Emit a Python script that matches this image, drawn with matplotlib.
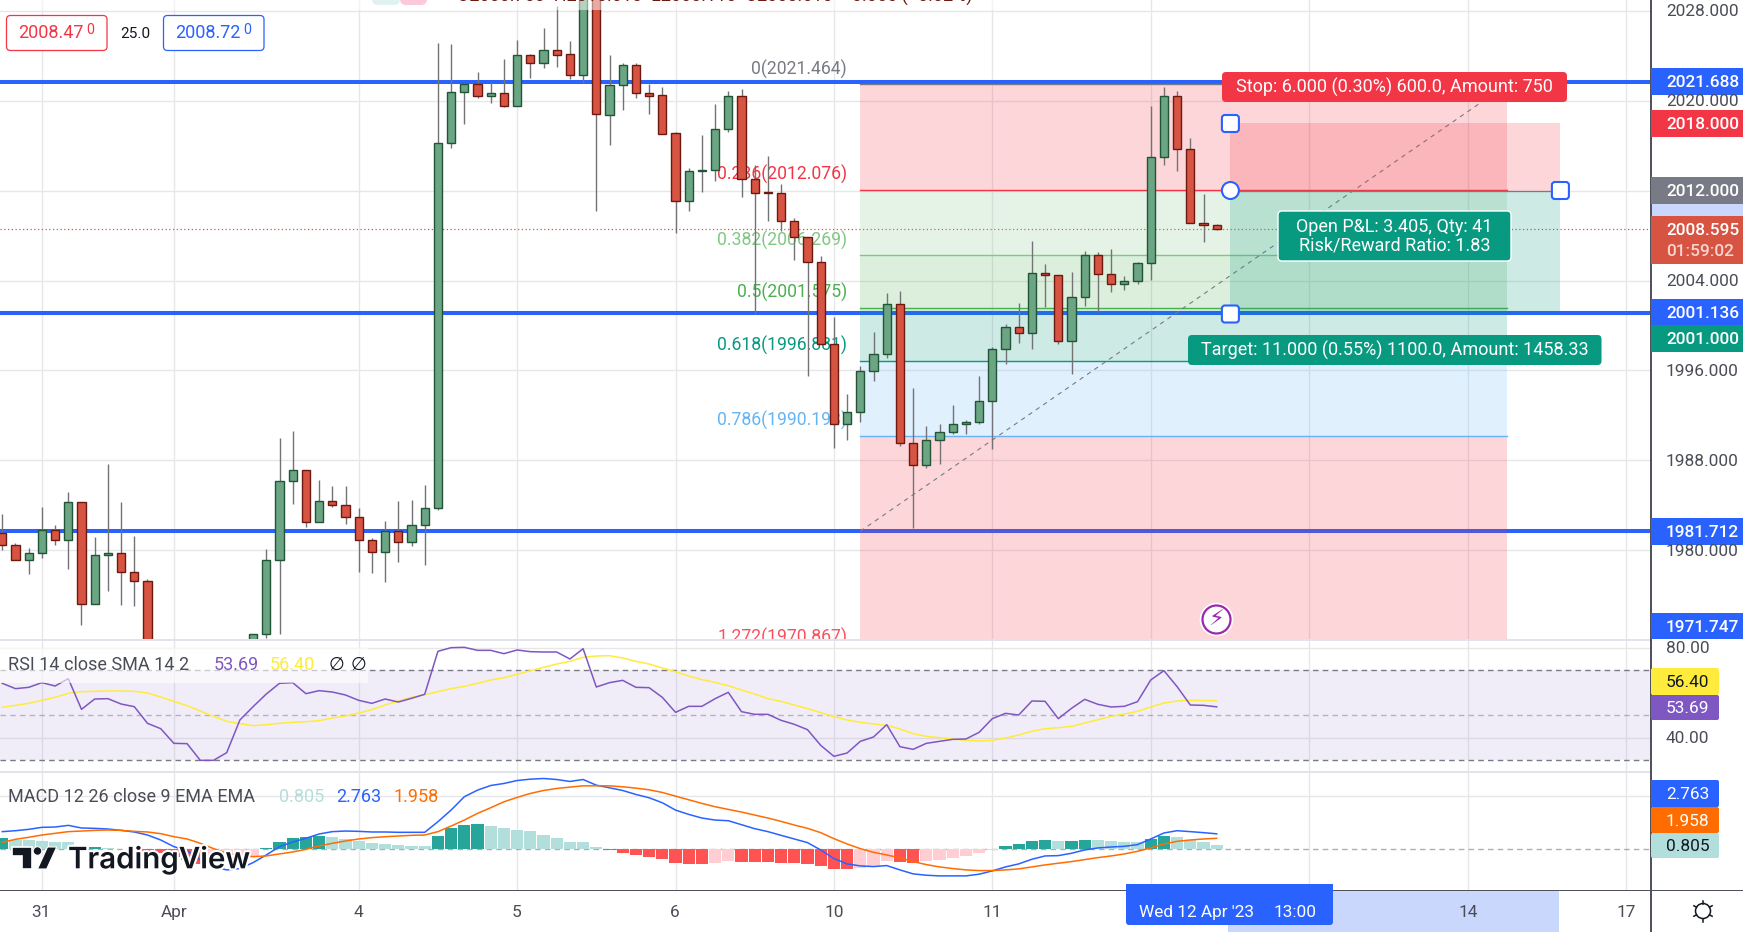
import numpy as np
import matplotlib
matplotlib.use('Agg')
import matplotlib.pyplot as plt
from matplotlib.patches import Rectangle, FancyBboxPatch, Circle, Polygon
import matplotlib.patheffects as pe

plt.rcParams['font.family'] = ['Roboto', 'DejaVu Sans']

W, H = 1743, 932
AXIS_X = 1651

# candles, price values (bars 12-18 sit below the pane)
bar_idx = list(range(0, 12)) + list(range(19, 93))
opens = [1981.55, 1980.48, 1979.12, 1979.77, 1981.82, 1980.93, 1984.31, 1975.23, 1979.59, 1979.77, 1978.08, 1977.28,
         1970.00, 1972.57, 1979.15, 1986.17, 1987.15, 1982.53, 1984.39, 1984.04, 1982.97, 1980.93, 1979.86, 1981.73,
         1980.75, 1982.26, 1983.77, 2016.23, 2020.77, 2021.48, 2020.47, 2020.68, 2019.58, 2024.06, 2023.41, 2024.50,
         2024.15, 2022.34, 2030.50, 2018.78, 2021.39, 2023.17, 2020.68, 2020.50, 2017.12, 2011.04, 2013.71, 2013.80,
         2017.45, 2020.41, 2013.03, 2011.87, 2011.78, 2009.29, 2007.87, 2005.65, 1998.36, 1991.21, 1992.31, 1995.93,
         1997.47, 2001.91, 1989.55, 1987.57, 1989.79, 1990.50, 1991.21, 1991.39, 1993.26, 1997.91, 1999.87, 1999.30,
         2004.67, 2004.49, 1998.59, 2002.51, 2006.27, 2004.58, 2003.66, 2003.93, 2005.53, 2014.96, 2020.41, 2015.70,
         2009.12, 2008.94]
highs = [1983.18, 1980.66, 1980.21, 1983.80, 1982.20, 1985.22, 1984.31, 1981.13, 1987.71, 1984.25, 1981.22, 1977.40,
         1972.57, 1980.07, 1989.94, 1990.65, 1987.15, 1986.20, 1985.67, 1985.67, 1983.71, 1981.04, 1982.56, 1984.34,
         1984.42, 1985.76, 2025.16, 2025.07, 2021.63, 2022.58, 2021.72, 2023.73, 2025.42, 2024.18, 2026.46, 2028.45,
         2025.30, 2031.00, 2031.00, 2024.09, 2023.37, 2023.35, 2021.51, 2021.21, 2017.24, 2014.04, 2016.97, 2019.73,
         2020.89, 2021.06, 2014.27, 2015.07, 2012.61, 2009.56, 2007.87, 2006.15, 2000.79, 1993.91, 1996.43, 1999.45,
         2002.92, 2003.10, 1994.47, 1991.09, 1991.27, 1992.96, 1991.63, 1995.54, 1998.09, 2000.17, 2002.03, 2007.54,
         2005.50, 2004.49, 2004.79, 2006.63, 2006.54, 2006.83, 2004.43, 2005.68, 2019.55, 2021.24, 2020.89, 2016.67,
         2011.73, 2009.00]
lows = [1980.01, 1979.15, 1977.84, 1979.30, 1980.42, 1978.29, 1973.34, 1975.23, 1976.36, 1975.12, 1975.03, 1968.00,
        1969.50, 1972.15, 1972.54, 1984.07, 1982.05, 1982.53, 1983.80, 1982.29, 1978.05, 1977.93, 1977.13, 1978.94,
        1980.36, 1978.64, 1983.56, 2015.76, 2017.95, 2020.21, 2019.85, 2019.49, 2019.58, 2022.07, 2022.96, 2023.05,
        2021.92, 2021.63, 2010.16, 2016.11, 2019.20, 2020.29, 2018.84, 2017.09, 2008.20, 2010.21, 2011.90, 2012.82,
        2017.27, 2011.40, 2000.99, 2009.27, 2008.38, 2005.86, 1995.48, 1998.36, 1989.07, 1989.79, 1991.45, 1995.10,
        1997.08, 1989.25, 1981.93, 1987.30, 1987.71, 1990.38, 1990.38, 1991.21, 1988.96, 1996.61, 1998.47, 1997.94,
        2001.68, 1998.39, 1995.72, 2001.77, 2001.17, 2003.01, 2003.13, 2003.66, 2004.08, 2014.30, 2013.71, 2009.09,
        2007.46, 2008.47]
closes = [1980.45, 1979.15, 1979.77, 1981.82, 1980.93, 1984.31, 1975.23, 1979.59, 1979.77, 1978.05, 1977.25, 1969.50,
          1972.57, 1979.15, 1986.17, 1987.15, 1982.53, 1984.39, 1984.01, 1982.97, 1980.93, 1979.86, 1981.73, 1980.75,
          1982.26, 1983.77, 2016.23, 2020.77, 2021.48, 2020.47, 2020.68, 2019.58, 2024.06, 2023.41, 2024.50, 2024.12,
          2022.34, 2030.50, 2018.81, 2021.39, 2023.17, 2020.68, 2020.47, 2017.09, 2011.04, 2013.74, 2013.83, 2017.48,
          2020.41, 2013.03, 2011.84, 2011.76, 2009.27, 2007.84, 2005.65, 1998.36, 1991.21, 1992.31, 1995.96, 1997.47,
          2001.91, 1989.52, 1987.57, 1989.82, 1990.53, 1991.24, 1991.42, 1993.29, 1997.91, 1999.87, 1999.30, 2004.67,
          2004.46, 1998.59, 2002.53, 2006.27, 2004.55, 2003.66, 2003.96, 2005.56, 2014.99, 2020.41, 2015.67, 2009.09,
          2008.91, 2008.595]

rsi = [64.15, 61.78, 62.37, 64.45, 62.96, 66.23, 52.58, 57.18, 57.33, 54.95, 53.77, 46.35, 43.98, 37.45, 37.31, 29.89,
       29.89, 33.30, 47.84, 53.77, 59.40, 64.15, 64.45, 59.55, 60.89, 60.29, 58.96, 56.59, 55.25, 57.18, 55.84, 57.48,
       59.26, 78.39, 80.02, 80.17, 78.83, 78.83, 77.35, 78.98, 78.24, 78.09, 78.09, 74.98, 79.57, 62.52, 64.45, 65.48,
       62.37, 62.22, 57.92, 51.25, 53.92, 53.92, 57.33, 60.15, 51.54, 50.36, 50.36, 47.69, 45.91, 43.53, 36.56, 31.67,
       33.15, 38.34, 40.27, 45.76, 35.97, 34.78, 37.45, 38.34, 39.23, 39.38, 42.35, 48.43, 50.80, 50.06, 56.29, 56.14,
       48.43, 53.03, 57.03, 54.81, 53.62, 53.92, 55.99, 65.63, 69.79, 62.67, 54.51, 54.36, 53.69]
rsi_sma = [53.47, 54.36, 55.25, 56.59, 57.92, 59.70, 60.44, 60.59, 60.74, 60.74, 60.59, 59.85, 58.07, 56.14, 54.21,
           51.84, 49.47, 47.24, 46.20, 45.31, 45.76, 46.35, 46.80, 47.09, 47.54, 48.73, 49.62, 50.95, 52.43, 54.51,
           56.29, 57.92, 59.11, 60.44, 61.78, 62.81, 64.15, 65.63, 66.67, 68.15, 69.79, 71.27, 72.75, 73.94, 75.72,
           76.31, 76.46, 75.42, 73.94, 72.75, 70.97, 69.34, 67.41, 65.78, 64.59, 63.11, 61.18, 59.40, 57.33, 56.14,
           54.51, 52.88, 51.10, 49.32, 47.84, 46.80, 46.06, 45.46, 43.83, 41.76, 40.57, 39.98, 39.38, 38.79, 38.49,
           38.79, 39.83, 41.16, 42.79, 43.98, 44.42, 45.02, 46.50, 47.98, 49.47, 50.51, 51.69, 53.62, 55.40, 56.29,
           56.60, 56.50, 56.40]

macd = [3.15, 3.32, 3.56, 3.92, 3.98, 4.27, 3.80, 3.74, 3.62, 3.38, 3.09, 2.55, 1.66, 0.47, -0.24, -1.90, -3.09, -3.68,
        -3.44, -2.38, -1.01, 0.47, 1.30, 1.96, 2.73, 3.15, 3.26, 3.20, 3.09, 3.09, 3.03, 3.03, 3.03, 4.92, 7.00, 9.38,
        10.56, 11.39, 11.75, 12.28, 12.52, 12.64, 12.46, 12.11, 12.46, 11.45, 10.98, 10.50, 9.79, 9.20, 8.31, 7.00,
        6.23, 5.58, 5.22, 5.10, 4.39, 3.68, 3.15, 2.49, 1.84, 1.19, -0.12, -1.66, -2.61, -2.97, -3.09, -2.91, -3.68,
        -4.39, -4.63, -4.75, -4.75, -4.75, -4.45, -3.86, -3.15, -2.61, -1.78, -1.19, -1.13, -0.71, -0.12, 0.24, 0.41,
        0.53, 0.83, 1.84, 2.91, 3.32, 3.15, 2.97, 2.76]
signal = [1.24, 1.78, 2.14, 2.55, 2.85, 3.15, 3.26, 3.38, 3.44, 3.38, 3.20, 3.09, 2.79, 2.25, 1.84, 1.07, 0.12, -0.71,
          -1.19, -1.31, -1.19, -0.83, -0.48, 0.00, 0.59, 1.07, 1.48, 1.84, 2.08, 2.25, 2.37, 2.49, 2.55, 3.15, 4.15,
          5.22, 6.41, 7.42, 8.48, 9.26, 9.97, 10.50, 10.86, 11.10, 11.33, 11.33, 11.33, 11.16, 10.92, 10.62, 10.15,
          9.49, 8.84, 8.19, 7.60, 7.12, 6.65, 6.11, 5.58, 4.98, 4.33, 3.74, 2.97, 1.90, 0.95, 0.12, -0.54, -1.01,
          -1.54, -2.20, -2.73, -3.15, -3.44, -3.68, -3.80, -3.80, -3.68, -3.50, -3.15, -2.79, -2.49, -2.20, -1.84,
          -1.49, -1.19, -0.83, -0.36, 0.24, 0.95, 1.42, 1.66, 1.84, 1.96]
hist = [2.02, 1.66, 1.64, 1.42, 1.30, 1.24, 0.05, 0.36, 0.30, 0.05, -0.12, -0.24, -0.71, -1.31, -1.90, -2.61, -1.90,
        -1.42, -1.31, -1.19, 0.24, 1.30, 2.02, 2.25, 2.30, 2.25, 1.78, 1.54, 1.13, 0.95, 0.77, 0.59, 0.58, 2.37, 3.80,
        4.33, 4.51, 4.15, 3.80, 3.44, 3.20, 2.55, 2.02, 1.36, 1.30, 0.41, -0.18, -0.60, -1.01, -1.37, -1.72, -2.43,
        -2.61, -2.62, -2.43, -2.08, -2.26, -2.28, -2.30, -2.43, -2.49, -2.61, -2.97, -3.50, -3.52, -3.27, -2.91,
        -2.08, -2.26, -2.43, -2.08, -1.90, -1.54, -1.19, -0.65, -0.06, 0.59, 0.95, 1.48, 1.66, 1.48, 1.55, 1.66, 1.60,
        1.48, 1.30, 1.25, 1.84, 2.37, 2.19, 1.66, 1.30, 0.80]

# levels
h_levels = [2021.688, 2001.136, 1981.712]
last_price = 2008.595
fib_ratio = ['0', '0.236', '0.382', '0.5', '0.618', '0.786', '1.272']
fib_price = [2021.464, 2012.076, 2006.269, 2001.575, 1996.881, 1990.193, 1970.867]
fib_line = ['#787b86', '#f23645', '#81c784', '#4caf50', '#089981', '#64b5f6', '#f7525f']
fib_fill = ['#f23645', '#81c784', '#4caf50', '#089981', '#64b5f6']
fib_low = 1981.686
fib_start, fib_end = 65, 114
pos_start, pos_end = 93, 118
pos_stop, pos_entry, pos_target = 2018.0, 2012.0, 2001.0

grid_idx = [3, 13, 27, 39, 51, 63, 75, 87, 99, 111, 123]
date_labels = ['31', 'Apr', '4', '5', '6', '10', '11', '14', '17']
date_x = [41, 174, 358, 517, 675, 834, 992, 1468, 1626]
price_ticks = [1972, 1980, 1988, 1996, 2004, 2012, 2020, 2028]

PXF = 0.72  # px -> pt at dpi 100
FS = 18.0 * PXF
TAG = 17.2 * PXF
TXT = '#4a4d57'
GRID = '#e7e7ea'

fig = plt.figure(figsize=(W / 100, H / 100), dpi=100, facecolor='white')


def pane(top, bottom):
    ax = fig.add_axes([0, 1 - bottom / H, AXIS_X / W, (bottom - top) / H])
    ax.set_xlim(-0.174, 124.9)
    for s in ax.spines.values():
        s.set_visible(False)
    ax.set_xticks(grid_idx)
    ax.tick_params(length=0, labelbottom=False, labelleft=False)
    ax.grid(color=GRID, lw=1.0, zorder=0)
    ax.set_axisbelow(True)
    return ax


# main pane
ax = pane(0, 640)
ax.set_ylim(1972.07, 2028.978)
ax.set_yticks(price_ticks)

for lv in h_levels:
    ax.axhline(lv, color='#2962ff', lw=2.9, zorder=2)
ax.axhline(last_price, color='#d75442', lw=0.9, ls=(0, (1, 2)), zorder=2)

# fib retracement
for i, c in enumerate(fib_fill):
    ax.fill_between([fib_start, fib_end], fib_price[i], fib_price[i + 1], color=c, alpha=0.2, lw=0, zorder=3)
ax.fill_between([fib_start, fib_end], fib_price[5], fib_price[6], color='#f23645', alpha=0.2, lw=0, zorder=3)
for r, p, c in zip(fib_ratio, fib_price, fib_line):
    ax.plot([fib_start, fib_end], [p, p], color=c, lw=1.0, zorder=3)
    ax.annotate('%s(%.3f)' % (r, p), (64, p), xytext=(0, 10.8), textcoords='offset points', ha='right', va='center',
                color=c, fontsize=FS * 0.98, zorder=3, clip_on=True, annotation_clip=False)
ax.plot([fib_start, fib_end], [fib_low, fib_price[0]], color='#787b86', lw=0.8, ls=(0, (4, 4)), zorder=4)

# long/short position
ax.fill_between([pos_start, pos_end], pos_entry, pos_stop, color='#f23645', alpha=0.2, lw=0, zorder=4)
ax.fill_between([pos_start, pos_end], pos_target, pos_entry, color='#089981', alpha=0.2, lw=0, zorder=4)
ax.plot([pos_start, pos_end], [pos_entry, pos_entry], color='#787b86', lw=0.9, zorder=4)

# candles
up_col = ['#6ba583' if c >= o else '#d75442' for o, c in zip(opens, closes)]
edge_col = ['#225437' if c >= o else '#6b1a12' for o, c in zip(opens, closes)]
ax.vlines(bar_idx, lows, highs, color='#737375', lw=1.0, zorder=5)
body_low = np.minimum(opens, closes)
body_h = np.abs(np.array(closes) - np.array(opens))
ax.bar(bar_idx, body_h, bottom=body_low, width=0.63, color=up_col, edgecolor=edge_col, lw=1.0, zorder=6)

# RSI pane
ax_rsi = pane(640, 772)
ax_rsi.set_ylim(24.7, 83.43)
ax_rsi.set_yticks([40, 80])
ax_rsi.axhspan(30, 70, color='#7e57c2', alpha=0.1, lw=0, zorder=1)
ax_rsi.axhline(70, color='#787b86', lw=1.0, ls=(0, (4, 3)), zorder=2)
ax_rsi.axhline(50, color='#787b86', lw=1.0, ls=(0, (4, 3)), alpha=0.5, zorder=2)
ax_rsi.axhline(30, color='#787b86', lw=1.0, ls=(0, (4, 3)), zorder=2)
ax_rsi.plot(range(93), rsi, color='#7e57c2', lw=1.1, zorder=4)
ax_rsi.plot(range(93), rsi_sma, color='#ffeb3b', lw=1.1, zorder=3)

# MACD pane
ax_macd = pane(772, 890)
ax_macd.set_ylim(-7.27, 13.8)
ax_macd.set_yticks([9.45])
ax_macd.axhline(0, color='#787b86', lw=1.0, ls=(0, (4, 3)), alpha=0.6, zorder=1)
hist_col = []
for i, v in enumerate(hist):
    rising = i == 0 or v >= hist[i - 1]
    if v >= 0:
        hist_col.append('#26a69a' if rising else '#b2dfdb')
    else:
        hist_col.append('#ffcdd2' if rising else '#ff5252')
ax_macd.bar(range(93), hist, width=0.92, color=hist_col, lw=0, zorder=2)
ax_macd.plot(range(93), macd, color='#2962ff', lw=1.1, zorder=3)
ax_macd.plot(range(93), signal, color='#ff6d00', lw=1.1, zorder=4)

# overlay in image pixels: price scale, tags, boxes, legends
ui = fig.add_axes([0, 0, 1, 1], facecolor='none')
ui.set_xlim(0, W)
ui.set_ylim(H, 0)
ui.axis('off')


def rect(x0, y0, x1, y1, color, alpha=1.0, z=2):
    ui.add_patch(Rectangle((x0, y0), x1 - x0, y1 - y0, facecolor=color, edgecolor='none', alpha=alpha, zorder=z))


def rbox(x0, y0, x1, y1, face, edge='none', lw=0.0, rad=4, z=3):
    ui.add_patch(FancyBboxPatch((x0 + rad, y0 + rad), x1 - x0 - 2 * rad, y1 - y0 - 2 * rad,
                                boxstyle='round,pad=%d,rounding_size=%d' % (rad, rad),
                                facecolor=face, edgecolor=edge, lw=lw, zorder=z))


def label(x, y, s, color=TXT, size=FS, ha='left', z=5, **kw):
    ui.text(x, y, s, color=color, fontsize=size, ha=ha, va='center', zorder=z, **kw)


# separators
rect(0, 638.5, AXIS_X, 640.5, '#e0e3eb')
rect(0, 771, AXIS_X, 773, '#e0e3eb')
rect(0, 889.5, W, 890.7, '#50535e')
rect(AXIS_X - 0.6, 0, AXIS_X + 0.6, H, '#50535e')

# top stubs of cut-off legend row
rect(0, 0, 1010, 9.5, 'white', alpha=0.5, z=2)
rbox(372, -14, 400, 5, '#dff2ef', rad=6)
rbox(400, -14, 427, 5, '#fcc8dc', rad=6)
ui.text(457, 1.5, 'O2008.750  H2010.010  L2008.110  C2008.510  \u22120.055 (\u22120.02%)', color='#6b1a12',
        fontsize=FS, ha='left', va='baseline', zorder=5)

# plain price scale labels
for s, y in [('2028.000', 12), ('2020.000', 101.5), ('2004.000', 281.5), ('1996.000', 371.5), ('1988.000', 461.5),
             ('1980.000', 551.5)]:
    label(1666, y, s, size=TAG)
label(1666, 648.5, '80.00', size=TAG)
label(1666, 738.5, '40.00', size=TAG)

# price tags: y0, y1, fill, text, text colour
tags = [(68, 95, '#2962ff', '2021.688', 'white'), (110, 137, '#f23645', '2018.000', 'white'),
        (177, 204, '#787b86', '2012.000', 'white'), (299, 325, '#2962ff', '2001.136', 'white'),
        (325, 352, '#089981', '2001.000', 'white'), (518, 545, '#2962ff', '1981.712', 'white'),
        (613, 639, '#2962ff', '1971.747', 'white')]
rect(AXIS_X + 0.6, 204, W, 216, '#c8d7fb')
for y0, y1, c, s, tc in tags:
    rect(AXIS_X, y0, W, y1, c, z=3)
    label(1666, (y0 + y1) / 2 + 1, s, color=tc, size=TAG, fontweight='medium')
rect(AXIS_X, 216, W, 264, '#d75442', z=3)
label(1666, 230.5, '2008.595', color='white', size=TAG, fontweight='medium')
label(1666, 252, '01:59:02', color='#f7d5d0', size=TAG, fontweight='medium')

for y0, y1, c, s, tc in [(668, 695, '#ffeb3b', '56.40', '#131722'), (695, 720, '#7e57c2', '53.69', 'white'),
                         (780, 807, '#2962ff', '2.763', 'white'), (807, 833, '#ff6d00', '1.958', 'white'),
                         (833, 858, '#b2dfdb', '0.805', '#131722')]:
    rbox(AXIS_X, y0, 1719, y1, c, rad=2)
    label(1666, (y0 + y1) / 2 + 1, s, color=tc, size=TAG)

# bid / ask boxes
rbox(6.5, 15.5, 107, 50.5, 'white', '#f23645', 0.9)
label(18, 33.5, '2008.47', color='#f23645')
label(86.5, 30, '0', color='#f23645', size=FS * 0.8)
label(135.5, 33.5, '25.0', color='#131722', size=FS * 0.85, ha='center')
rbox(163.5, 15.5, 264, 50.5, 'white', '#2962ff', 0.9)
label(175, 33.5, '2008.72', color='#2962ff')
label(243.5, 30, '0', color='#2962ff', size=FS * 0.8)

# position labels
rbox(1222, 72, 1567, 102, '#f23645')
label(1394.5, 87, 'Stop: 6.000 (0.30%) 600.0, Amount: 750', color='white', ha='center')
rbox(1278, 211, 1511, 261, '#089981', 'white', 1.0)
label(1394.5, 227, 'Open P&L: 3.405, Qty: 41', color='white', ha='center')
label(1394.5, 245.5, 'Risk/Reward Ratio: 1.83', color='white', ha='center')
rbox(1188, 335, 1601.5, 365, '#089981')
label(1394.5, 350, 'Target: 11.000 (0.55%) 1100.0, Amount: 1458.33', color='white', ha='center')

# drawing handles
for x, y in [(1230.4, 123.5), (1230.4, 314), (1560.4, 190.5)]:
    rbox(x - 8.5, y - 8.5, x + 8.5, y + 8.5, 'white', '#2962ff', 1.5, rad=3)
ui.add_patch(Circle((1230.4, 190.5), 8.5, facecolor='white', edgecolor='#2962ff', lw=1.5, zorder=4))

# lightning marker
ui.add_patch(Circle((1216.5, 619.5), 14, facecolor='white', edgecolor='#9c27b0', lw=1.6, zorder=4,
                    path_effects=[pe.withStroke(linewidth=4, foreground='white')]))
ui.text(1216.5, 619.5, '\u26a1', color='#9c27b0', fontsize=FS * 1.25, ha='center', va='center', zorder=5,
        family=['DejaVu Sans'])

# indicator legends
rect(0, 648, 368, 683, 'white', alpha=0.6, z=2)
label(8, 665, 'RSI 14 close SMA 14 2')
label(213.5, 665, '53.69', color='#7e57c2')
label(270, 665, '56.40', color='#ffeb3b')
label(329, 665, '\u2205', color='#131722', family=['DejaVu Sans'], size=FS)
label(351, 665, '\u2205', color='#131722', family=['DejaVu Sans'], size=FS)
label(8, 797, 'MACD 12 26 close 9 EMA EMA')
label(279, 797, '0.805', color='#b2dfdb')
label(336.5, 797, '2.763', color='#2962ff')
label(394, 797, '1.958', color='#ff6d00')

# TradingView watermark
halo = [pe.withStroke(linewidth=3, foreground='white')]
LOGO = '#131722'
ui.add_patch(Polygon([(12, 847), (32, 847), (32, 869), (22, 869), (22, 856), (12, 856)], closed=True, facecolor=LOGO,
                     edgecolor='white', lw=1.2, zorder=6))
ui.add_patch(Circle((37.5, 851), 4.3, facecolor=LOGO, edgecolor='white', lw=0.8, zorder=6))
ui.add_patch(Polygon([(37.5, 869), (47.5, 847), (56.7, 847), (46.7, 869)], closed=True, facecolor=LOGO, zorder=6,
                     edgecolor='white', lw=0.8))
ui.text(68, 868.3, 'TradingView', color=LOGO, fontsize=29.5 * PXF, fontweight='semibold', family=['Inter', 'Roboto'],
        ha='left', va='baseline', zorder=6, path_effects=halo)

# time axis
rect(1228, 890.7, 1559, H, '#c8d7fb', z=2)
for s, x in zip(date_labels, date_x):
    label(x, 912.5, s, ha='center', size=TAG)
rbox(1126, 884, 1333, 925, '#2962ff', rad=3)
rect(1126, 884, 1333, 890.7, '#2962ff', z=3)
label(1139, 912.5, "Wed 12 Apr '23", color='white', size=TAG)
label(1274, 912.5, '13:00', color='white', size=TAG)

# settings gear
ui.add_patch(Circle((1703, 911), 7.5, facecolor='white', edgecolor='#131722', lw=1.1, zorder=5))
for a in np.deg2rad([90, 210, 330, 30, 150, 270]):
    ui.plot([1703 + 7.5 * np.cos(a), 1703 + 10.5 * np.cos(a)], [911 + 7.5 * np.sin(a), 911 + 10.5 * np.sin(a)],
            color='#131722', lw=1.1, zorder=5)

fig.savefig('out.png', dpi=100)
